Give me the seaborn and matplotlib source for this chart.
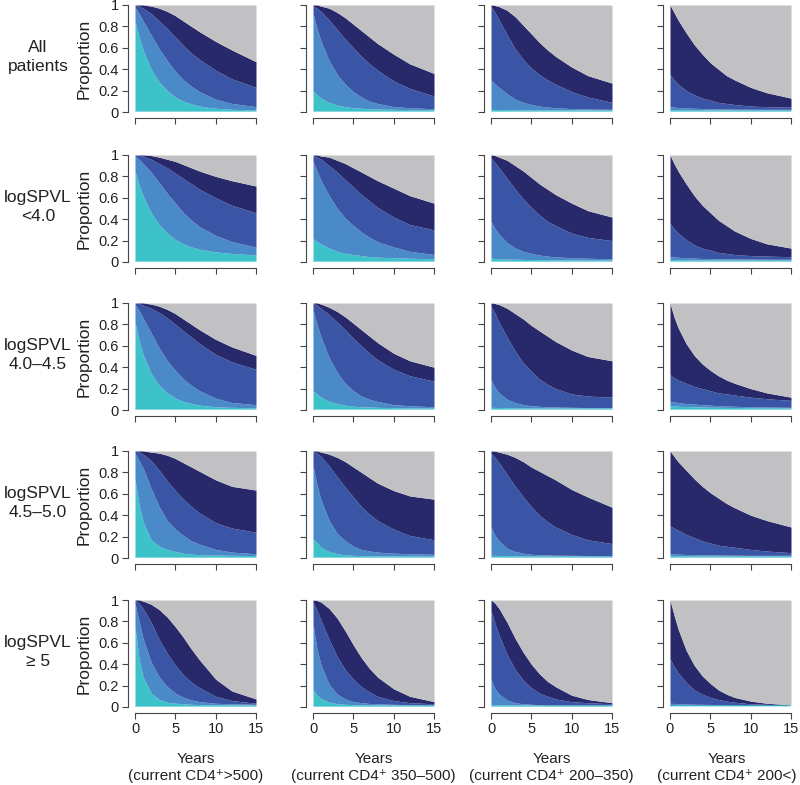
import numpy as np
import matplotlib.pyplot as plt
import seaborn as sns

sns.set_theme(style="ticks")
plt.rcParams['font.family'] = ['Liberation Sans', 'DejaVu Sans']

years = [0, 0.5, 1, 2, 3, 4, 5, 6, 7, 8, 10, 12, 15]

# each panel: cumulative tops of [cyan, light blue, medium blue, navy]; grey fills the rest
all_c1 = [[0.85, 0.70, 0.58, 0.40, 0.28, 0.20, 0.14, 0.10, 0.075, 0.055, 0.035, 0.025, 0.02],
          [0.98, 0.92, 0.85, 0.72, 0.59, 0.48, 0.38, 0.30, 0.24, 0.19, 0.12, 0.08, 0.05],
          [1.0, 0.99, 0.97, 0.92, 0.85, 0.78, 0.70, 0.62, 0.55, 0.49, 0.39, 0.31, 0.23],
          [1.0, 1.0, 1.0, 0.99, 0.97, 0.94, 0.90, 0.85, 0.80, 0.75, 0.66, 0.58, 0.47]]
all_c2 = [[0.20, 0.16, 0.13, 0.09, 0.065, 0.05, 0.04, 0.035, 0.03, 0.028, 0.025, 0.022, 0.02],
          [0.92, 0.78, 0.66, 0.48, 0.35, 0.26, 0.19, 0.14, 0.10, 0.08, 0.05, 0.04, 0.03],
          [0.99, 0.97, 0.94, 0.86, 0.77, 0.68, 0.60, 0.52, 0.45, 0.39, 0.29, 0.22, 0.15],
          [1.0, 1.0, 0.99, 0.97, 0.93, 0.88, 0.82, 0.76, 0.70, 0.64, 0.54, 0.45, 0.36]]
all_c3 = [[0.025, 0.024, 0.023, 0.022, 0.021, 0.02, 0.02, 0.02, 0.02, 0.02, 0.02, 0.02, 0.02],
          [0.30, 0.26, 0.23, 0.17, 0.12, 0.09, 0.07, 0.055, 0.047, 0.04, 0.032, 0.028, 0.025],
          [0.985, 0.93, 0.86, 0.72, 0.59, 0.49, 0.41, 0.35, 0.30, 0.26, 0.19, 0.14, 0.09],
          [1.0, 0.995, 0.985, 0.95, 0.89, 0.81, 0.73, 0.65, 0.58, 0.52, 0.42, 0.34, 0.27]]
all_c4 = [[0.022, 0.022, 0.021, 0.021, 0.02, 0.02, 0.02, 0.02, 0.02, 0.02, 0.02, 0.02, 0.02],
          [0.05, 0.045, 0.042, 0.038, 0.035, 0.032, 0.03, 0.029, 0.028, 0.027, 0.026, 0.025, 0.025],
          [0.35, 0.30, 0.26, 0.20, 0.16, 0.13, 0.11, 0.09, 0.08, 0.07, 0.055, 0.05, 0.045],
          [1.0, 0.93, 0.86, 0.74, 0.63, 0.54, 0.46, 0.40, 0.34, 0.30, 0.23, 0.18, 0.13]]

lt40_c1 = [[0.85, 0.72, 0.62, 0.46, 0.35, 0.27, 0.21, 0.17, 0.14, 0.12, 0.095, 0.08, 0.065],
           [0.99, 0.96, 0.92, 0.84, 0.74, 0.64, 0.55, 0.46, 0.39, 0.33, 0.25, 0.19, 0.14],
           [1.0, 1.0, 0.99, 0.96, 0.92, 0.88, 0.83, 0.78, 0.73, 0.68, 0.60, 0.53, 0.46],
           [1.0, 1.0, 1.0, 0.995, 0.98, 0.96, 0.94, 0.91, 0.88, 0.85, 0.80, 0.76, 0.71]]
lt40_c2 = [[0.22, 0.19, 0.17, 0.13, 0.10, 0.08, 0.07, 0.06, 0.05, 0.045, 0.04, 0.035, 0.03],
           [0.94, 0.85, 0.76, 0.62, 0.50, 0.41, 0.34, 0.28, 0.23, 0.19, 0.14, 0.10, 0.07],
           [1.0, 0.98, 0.96, 0.90, 0.84, 0.77, 0.70, 0.63, 0.57, 0.51, 0.42, 0.35, 0.30],
           [1.0, 1.0, 0.99, 0.98, 0.95, 0.92, 0.88, 0.84, 0.80, 0.76, 0.69, 0.62, 0.55]]
lt40_c3 = [[0.035, 0.033, 0.031, 0.028, 0.026, 0.024, 0.023, 0.022, 0.021, 0.02, 0.02, 0.02, 0.02],
           [0.38, 0.31, 0.26, 0.18, 0.13, 0.10, 0.08, 0.065, 0.055, 0.048, 0.04, 0.035, 0.03],
           [0.97, 0.93, 0.88, 0.78, 0.68, 0.59, 0.51, 0.44, 0.38, 0.34, 0.27, 0.23, 0.20],
           [1.0, 0.995, 0.98, 0.95, 0.90, 0.85, 0.79, 0.73, 0.68, 0.63, 0.55, 0.48, 0.42]]
lt40_c4 = [[0.022, 0.022, 0.021, 0.021, 0.02, 0.02, 0.02, 0.02, 0.02, 0.02, 0.02, 0.02, 0.02],
           [0.05, 0.047, 0.044, 0.04, 0.036, 0.033, 0.031, 0.03, 0.029, 0.028, 0.027, 0.026, 0.025],
           [0.36, 0.31, 0.27, 0.21, 0.16, 0.13, 0.11, 0.09, 0.08, 0.07, 0.06, 0.055, 0.05],
           [1.0, 0.92, 0.85, 0.73, 0.62, 0.53, 0.46, 0.39, 0.34, 0.29, 0.22, 0.17, 0.13]]

v40_c1 = [[0.82, 0.65, 0.52, 0.34, 0.23, 0.16, 0.11, 0.08, 0.06, 0.045, 0.03, 0.025, 0.02],
          [0.99, 0.93, 0.86, 0.72, 0.58, 0.46, 0.37, 0.29, 0.23, 0.18, 0.11, 0.07, 0.05],
          [1.0, 0.995, 0.98, 0.95, 0.91, 0.86, 0.80, 0.74, 0.68, 0.62, 0.52, 0.45, 0.38],
          [1.0, 1.0, 1.0, 0.99, 0.97, 0.94, 0.90, 0.85, 0.80, 0.75, 0.66, 0.59, 0.51]]
v40_c2 = [[0.18, 0.15, 0.12, 0.08, 0.06, 0.045, 0.035, 0.03, 0.028, 0.025, 0.022, 0.02, 0.02],
          [0.93, 0.80, 0.68, 0.49, 0.35, 0.25, 0.18, 0.13, 0.10, 0.08, 0.05, 0.04, 0.03],
          [1.0, 0.98, 0.95, 0.89, 0.82, 0.75, 0.67, 0.60, 0.53, 0.47, 0.38, 0.32, 0.27],
          [1.0, 1.0, 0.99, 0.96, 0.92, 0.87, 0.81, 0.75, 0.69, 0.63, 0.53, 0.46, 0.40]]
v40_c3 = [[0.025, 0.024, 0.023, 0.022, 0.021, 0.02, 0.02, 0.02, 0.02, 0.02, 0.02, 0.02, 0.02],
          [0.28, 0.21, 0.16, 0.10, 0.07, 0.05, 0.04, 0.035, 0.03, 0.028, 0.025, 0.023, 0.022],
          [0.97, 0.90, 0.82, 0.68, 0.55, 0.44, 0.36, 0.29, 0.24, 0.20, 0.15, 0.13, 0.12],
          [1.0, 0.995, 0.985, 0.95, 0.90, 0.85, 0.79, 0.74, 0.69, 0.64, 0.56, 0.50, 0.46]]
v40_c4 = [[0.04, 0.037, 0.035, 0.032, 0.03, 0.028, 0.026, 0.025, 0.024, 0.023, 0.022, 0.021, 0.02],
          [0.08, 0.075, 0.07, 0.06, 0.055, 0.05, 0.045, 0.04, 0.037, 0.035, 0.03, 0.028, 0.025],
          [0.33, 0.30, 0.28, 0.25, 0.22, 0.20, 0.18, 0.16, 0.15, 0.14, 0.12, 0.105, 0.09],
          [1.0, 0.87, 0.77, 0.62, 0.51, 0.43, 0.37, 0.32, 0.28, 0.25, 0.20, 0.16, 0.12]]

v45_c1 = [[0.73, 0.50, 0.34, 0.17, 0.11, 0.08, 0.06, 0.045, 0.036, 0.031, 0.027, 0.025, 0.023],
          [0.98, 0.91, 0.84, 0.65, 0.48, 0.35, 0.27, 0.21, 0.16, 0.13, 0.08, 0.055, 0.04],
          [1.0, 0.99, 0.97, 0.91, 0.82, 0.72, 0.63, 0.55, 0.48, 0.42, 0.33, 0.28, 0.24],
          [1.0, 1.0, 1.0, 0.99, 0.98, 0.96, 0.93, 0.89, 0.85, 0.81, 0.73, 0.67, 0.635]]
v45_c2 = [[0.18, 0.14, 0.10, 0.06, 0.04, 0.03, 0.025, 0.022, 0.02, 0.02, 0.02, 0.02, 0.02],
          [0.86, 0.68, 0.54, 0.35, 0.23, 0.16, 0.11, 0.08, 0.065, 0.055, 0.045, 0.04, 0.035],
          [1.0, 0.98, 0.95, 0.86, 0.76, 0.66, 0.57, 0.48, 0.41, 0.35, 0.27, 0.21, 0.17],
          [1.0, 1.0, 0.99, 0.97, 0.94, 0.90, 0.85, 0.80, 0.75, 0.70, 0.63, 0.58, 0.55]]
v45_c3 = [[0.025, 0.024, 0.023, 0.022, 0.021, 0.02, 0.02, 0.02, 0.02, 0.02, 0.02, 0.02, 0.02],
          [0.29, 0.21, 0.16, 0.09, 0.06, 0.045, 0.035, 0.03, 0.028, 0.026, 0.025, 0.023, 0.022],
          [0.98, 0.94, 0.89, 0.78, 0.67, 0.57, 0.48, 0.40, 0.34, 0.29, 0.22, 0.17, 0.135],
          [1.0, 0.998, 0.99, 0.97, 0.94, 0.90, 0.85, 0.81, 0.77, 0.73, 0.64, 0.57, 0.475]]
v45_c4 = [[0.022, 0.022, 0.021, 0.021, 0.02, 0.02, 0.02, 0.02, 0.02, 0.02, 0.02, 0.02, 0.02],
          [0.04, 0.038, 0.036, 0.033, 0.031, 0.03, 0.029, 0.028, 0.027, 0.026, 0.025, 0.025, 0.025],
          [0.30, 0.28, 0.26, 0.22, 0.19, 0.16, 0.14, 0.12, 0.11, 0.10, 0.08, 0.065, 0.05],
          [1.0, 0.95, 0.90, 0.82, 0.74, 0.67, 0.61, 0.56, 0.51, 0.47, 0.40, 0.35, 0.29]]

ge5_c1 = [[0.75, 0.45, 0.28, 0.13, 0.07, 0.045, 0.035, 0.03, 0.025, 0.022, 0.02, 0.02, 0.02],
          [0.97, 0.80, 0.64, 0.42, 0.28, 0.19, 0.13, 0.09, 0.065, 0.05, 0.035, 0.03, 0.025],
          [1.0, 0.97, 0.92, 0.79, 0.63, 0.50, 0.39, 0.30, 0.23, 0.18, 0.10, 0.06, 0.035],
          [1.0, 1.0, 0.99, 0.96, 0.91, 0.84, 0.75, 0.65, 0.54, 0.44, 0.26, 0.15, 0.075]]
ge5_c2 = [[0.16, 0.11, 0.08, 0.045, 0.03, 0.025, 0.022, 0.02, 0.02, 0.02, 0.02, 0.02, 0.02],
          [0.77, 0.54, 0.39, 0.21, 0.12, 0.075, 0.05, 0.04, 0.033, 0.03, 0.025, 0.022, 0.02],
          [0.98, 0.90, 0.81, 0.63, 0.47, 0.35, 0.26, 0.19, 0.14, 0.10, 0.06, 0.04, 0.03],
          [1.0, 0.995, 0.98, 0.92, 0.83, 0.71, 0.58, 0.46, 0.36, 0.28, 0.17, 0.10, 0.05]]
ge5_c3 = [[0.022, 0.022, 0.021, 0.021, 0.02, 0.02, 0.02, 0.02, 0.02, 0.02, 0.02, 0.02, 0.02],
          [0.26, 0.17, 0.12, 0.065, 0.04, 0.03, 0.025, 0.022, 0.02, 0.02, 0.02, 0.02, 0.02],
          [0.90, 0.78, 0.67, 0.49, 0.35, 0.25, 0.18, 0.13, 0.10, 0.075, 0.05, 0.04, 0.03],
          [1.0, 0.97, 0.92, 0.79, 0.64, 0.51, 0.40, 0.31, 0.24, 0.19, 0.11, 0.07, 0.04]]
ge5_c4 = [[0.02, 0.02, 0.02, 0.02, 0.02, 0.02, 0.02, 0.02, 0.02, 0.02, 0.02, 0.02, 0.02],
          [0.035, 0.033, 0.031, 0.028, 0.026, 0.025, 0.024, 0.023, 0.022, 0.022, 0.021, 0.021, 0.02],
          [0.45, 0.38, 0.32, 0.23, 0.16, 0.12, 0.09, 0.07, 0.055, 0.045, 0.03, 0.025, 0.02],
          [1.0, 0.86, 0.73, 0.53, 0.39, 0.29, 0.22, 0.16, 0.12, 0.09, 0.055, 0.035, 0.02]]

pale_top = 0.01

row_labels = ["All\npatients", "logSPVL\n<4.0", "logSPVL\n4.0–4.5", "logSPVL\n4.5–5.0", "logSPVL\n≥ 5"]
col_labels = ["Years\n(current CD4⁺>500)", "Years\n(current CD4⁺ 350–500)",
              "Years\n(current CD4⁺ 200–350)", "Years\n(current CD4⁺ 200<)"]
yticks = [0, 0.2, 0.4, 0.6, 0.8, 1]
ytick_labels = ["0", "0.2", "0.4", "0.6", "0.8", "1"]
xticks = [0, 5, 10, 15]

panels = [[all_c1, all_c2, all_c3, all_c4],
          [lt40_c1, lt40_c2, lt40_c3, lt40_c4],
          [v40_c1, v40_c2, v40_c3, v40_c4],
          [v45_c1, v45_c2, v45_c3, v45_c4],
          [ge5_c1, ge5_c2, ge5_c3, ge5_c4]]

colors = ['#bfe9ef', '#3cc2c8', '#4a8ac8', '#3a55a5', '#27296b', '#c1c0c2']

W, H = 800, 785
col_left = [135, 313, 491, 670]
row_top = [5, 155, 303, 451, 600]
pw, ph = 121, 107

fig = plt.figure(figsize=(W / 100, H / 100), dpi=100)
x = np.array(years)

for r, row in enumerate(panels):
    for c, panel in enumerate(row):
        ax = fig.add_axes([col_left[c] / W, 1 - (row_top[r] + ph) / H, pw / W, ph / H])
        bounds = [np.zeros(len(x)), np.full(len(x), pale_top)]
        bounds += [np.array(b) for b in panel]
        bounds.append(np.ones(len(x)))
        for i in range(len(bounds) - 1):
            ax.fill_between(x, bounds[i], bounds[i + 1], color=colors[i], lw=0)
        ax.set_xlim(0, 15)
        ax.set_ylim(0, 1)
        ax.set_xticks(xticks)
        ax.set_yticks(yticks)
        sns.despine(ax=ax, offset={'left': 5, 'bottom': 4.5})
        for s in ['left', 'bottom']:
            ax.spines[s].set_color('#444444')
            ax.spines[s].set_linewidth(0.8)
        ax.tick_params(length=4.5, width=0.8, color='#444444', labelsize=10.5,
                       labelcolor='#222222', pad=2)
        if c == 0:
            ax.set_yticklabels(ytick_labels)
            ax.set_ylabel("Proportion", fontsize=12.5, color='#222222', labelpad=5)
        else:
            ax.set_yticklabels([])
        if r == len(panels) - 1:
            ax.set_xticklabels([str(t) for t in xticks])
            ax.tick_params(axis='x', pad=2)
            ax.set_xlabel(col_labels[c], fontsize=11, color='#222222', linespacing=1.3)
            ax.xaxis.set_label_coords(0.47 if c == 3 else 0.5, -0.42)
        else:
            ax.set_xticklabels([])
    fig.text(38 / W, 1 - (row_top[r] + 52) / H, row_labels[r], ha='center', va='center',
             fontsize=12.5, color='#222222', linespacing=1.3)

fig.savefig("out.png", dpi=100)
